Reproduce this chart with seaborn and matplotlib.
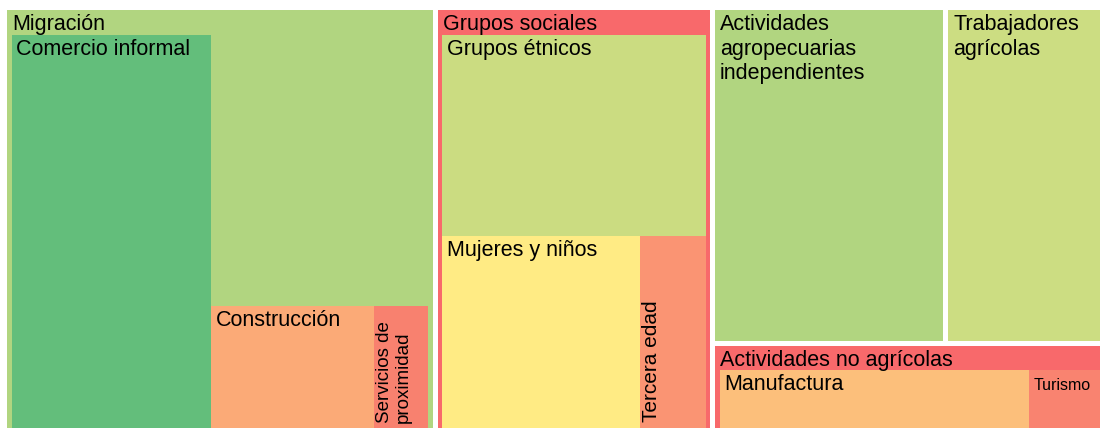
import matplotlib
matplotlib.use("Agg")
import matplotlib.pyplot as plt
from matplotlib.patches import Rectangle
import seaborn as sns

# top level of the treemap (share of total, %)
group_labels = ["Migración", "Grupos sociales",
                "Actividades\nagropecuarias\nindependientes",
                "Trabajadores\nagrícolas", "Actividades no agrícolas"]
group_values = [38.55, 24.78, 16.34, 12.41, 7.92]
group_colors = ["#B1D580", "#F8696B", "#B1D580", "#CCDD82", "#F8696B"]

# children (the unnamed piece of Migración is drawn in the parent colour)
migracion_labels = ["Comercio informal", "", "Construcción", "Servicios de\nproximidad"]
migracion_values = [18.44, 13.86, 4.68, 1.57]
migracion_colors = ["#63BE7B", "#B1D580", "#FBAA77", "#F8816F"]

sociales_labels = ["Grupos étnicos", "Mujeres y niños", "Tercera edad"]
sociales_values = [12.66, 9.10, 3.02]
sociales_colors = ["#CBDC81", "#FFEB84", "#FA9473"]

noagricolas_labels = ["Manufactura", "Turismo"]
noagricolas_values = [6.19, 1.73]
noagricolas_colors = ["#FCBF7B", "#F98370"]

children = {
    "Migración": (migracion_labels, migracion_values, migracion_colors),
    "Grupos sociales": (sociales_labels, sociales_values, sociales_colors),
    "Actividades no agrícolas": (noagricolas_labels, noagricolas_values, noagricolas_colors),
}


def worst(areas, side):
    s = sum(areas)
    return max(max(side ** 2 * a / s ** 2, s ** 2 / (side ** 2 * a)) for a in areas)


def squarify(values, x, y, w, h):
    """plain squarified treemap, returns (x, y, w, h) per value"""
    total = sum(values)
    areas = [v * w * h / total for v in values]
    order = sorted(range(len(values)), key=lambda i: -values[i])
    rects = [None] * len(values)
    i = 0
    while i < len(order):
        side = min(w, h)
        row = [order[i]]
        j = i + 1
        while j < len(order):
            new = row + [order[j]]
            if worst([areas[k] for k in new], side) > worst([areas[k] for k in row], side):
                break
            row = new
            j += 1
        thick = sum(areas[k] for k in row) / side
        pos = 0
        for k in row:
            length = areas[k] / thick
            if w >= h:
                rects[k] = (x, y + pos, thick, length)
            else:
                rects[k] = (x + pos, y, length, thick)
            pos += length
        if w >= h:
            x += thick
            w -= thick
        else:
            y += thick
            h -= thick
        i = j
    return rects


def put_label(ax, text, x, y, w, h, pad=4.5):
    if not text:
        return
    if w < 70 and h > w:
        # narrow cells get the label turned upright
        size = 13.5 if "\n" in text else 15
        ax.text(x + 2.5, y + h - 6.5, text, rotation=90, ha="left", va="bottom",
                fontsize=size, linespacing=1.1, color="black", clip_on=True)
        return
    size = 11.5 if (h < 70 and w < 120) else 15.5
    if "\n" in text:
        ax.text(x + pad, y + 4.3, text, ha="left", va="top", fontsize=size,
                linespacing=1.22, color="black", clip_on=True)
    else:
        ax.text(x + pad, y + 20, text, ha="left", va="baseline", fontsize=size,
                color="black", clip_on=True)


sns.set_theme(style="white")
plt.rcParams["font.family"] = ["Liberation Sans", "DejaVu Sans"]

fig = plt.figure(figsize=(11, 4.28), dpi=100)
ax = fig.add_axes([0, 0, 1, 1])
ax.set_xlim(0, 1100)
ax.set_ylim(428, 0)
ax.axis("off")

GAP = 2.5
BORDER = 4.5
HEADER = 24.5
canvas = (4.5, 7.5, 1118, 428.5)  # the chart runs past the cropped edge

for name, color, (x, y, w, h) in zip(group_labels, group_colors,
                                     squarify(group_values, *canvas)):
    x, y, w, h = x + GAP, y + GAP, w - 2 * GAP, h - 2 * GAP
    ax.add_patch(Rectangle((x, y), w, h, facecolor=color, edgecolor="none"))
    put_label(ax, name, x, y, w, h, pad=5)
    if name in children:
        labels, values, colors = children[name]
        inner = (x + BORDER, y + HEADER, w - 2 * BORDER, h - HEADER - BORDER)
        for lab, col, (cx, cy, cw, ch) in zip(labels, colors, squarify(values, *inner)):
            ax.add_patch(Rectangle((cx, cy), cw, ch, facecolor=col, edgecolor="none"))
            put_label(ax, lab, cx, cy, cw, ch)

fig.savefig("out.png", dpi=100)
